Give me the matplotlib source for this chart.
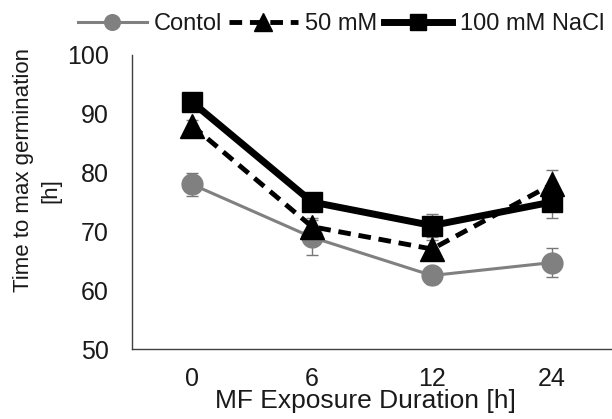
import matplotlib
matplotlib.use('Agg')
import matplotlib.pyplot as plt

plt.rcParams['font.family'] = ['Liberation Sans', 'DejaVu Sans']

durations = ['0', '6', '12', '24']
control = [78, 69, 62.5, 64.7]
control_err = [2, 3, 1.5, 2.4]
nacl_50 = [88, 70.8, 67, 78]
nacl_50_err = [1, 1.5, 1.5, 2.5]
nacl_100 = [92, 75, 71, 75]
nacl_100_err = [0.8, 1, 2, 2.7]

fig = plt.figure(figsize=(6.12, 4.19), dpi=100)
ax = fig.add_axes([132 / 612, 70 / 419, 480 / 612, 294 / 419])

x = list(range(len(durations)))
err_kw = dict(fmt='none', ecolor='#777777', elinewidth=1, capsize=4.3, capthick=1)

# error bars first, lines and markers on top
ax.errorbar(x, control, yerr=control_err, zorder=2, **err_kw)
ax.errorbar(x, nacl_50, yerr=nacl_50_err, zorder=2, **err_kw)
ax.errorbar(x, nacl_100, yerr=nacl_100_err, zorder=2, **err_kw)

l1, = ax.plot(x, control, color='#808080', lw=2.2, marker='o', ms=15, zorder=3, label='Contol')
l2, = ax.plot(x, nacl_50, color='black', lw=3.5, ls=(0, (2.6, 1.6)), marker='^', ms=17,
              zorder=4, label='50 mM')
l3, = ax.plot(x, nacl_100, color='black', lw=5, marker='s', ms=15, zorder=5, label='100 mM NaCl')

ax.set_xlim(-0.5, 3.5)
ax.set_ylim(50, 100)
ax.set_yticks([50, 60, 70, 80, 90, 100])
ax.set_xticks(x)
ax.set_xticklabels(durations)
ax.tick_params(length=0, labelsize=18, colors='#1a1a1a')
ax.tick_params(axis='x', pad=13)
ax.tick_params(axis='y', pad=16.5)
for side in ['top', 'right']:
    ax.spines[side].set_visible(False)
for side in ['left', 'bottom']:
    ax.spines[side].set_color('#404040')
    ax.spines[side].set_linewidth(1)

ax.set_xlabel('MF Exposure Duration [h]', fontsize=19, color='#1a1a1a')
ax.xaxis.set_label_coords((365 - 132) / 480, -(389 - 349) / 294)

# y label: two lines placed separately, as in the reference
fig.text(23.5 / 612, 1 - 170 / 419, 'Time to max germination', rotation=90,
         ha='center', va='center', fontsize=16, color='#1a1a1a')
fig.text(51 / 612, 1 - 191 / 419, '[h]', rotation=90,
         ha='center', va='center', fontsize=16, color='#1a1a1a')

fig.legend([l1, l2, l3], ['Contol', '50 mM', '100 mM NaCl'], loc='center',
           bbox_to_anchor=(341 / 612, 1 - 24 / 419), ncol=3, frameon=False,
           fontsize=17, handlelength=2.9, handletextpad=0.3, columnspacing=0.3,
           markerscale=0.75, borderaxespad=0, labelcolor='#1a1a1a')

fig.savefig('out.png', dpi=100)
